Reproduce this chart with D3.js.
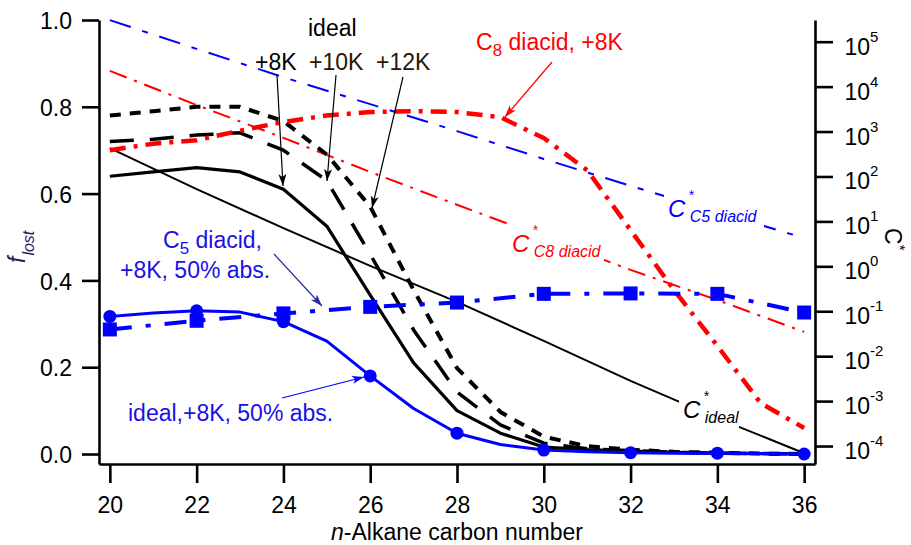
<!DOCTYPE html>
<html>
<head>
<script src="https://d3js.org/d3.v7.min.js"></script>
<style>
  body {margin: 0; background: #fff;}
  text {font-family: Arial, 'Liberation Sans', sans-serif;}
</style>
</head>
<body>
<svg width="911" height="545"></svg>
<script>
// carbon numbers
var carbons = [20,21,22,23,24,25,26,27,28,29,30,31,32,33,34,35,36];
var evenCarbons = [20,22,24,26,28,30,32,34,36];

// f_lost, one value per carbon number
var ideal8K   = [0.64,0.65,0.66,0.65,0.61,0.525,0.366,0.21,0.10,0.048,0.016,0.010,0.007,0.004,0.002,0.001,0.0];
var ideal10K  = [0.72,0.725,0.735,0.74,0.70,0.63,0.46,0.286,0.143,0.067,0.025,0.012,0.008,0.004,0.002,0.001,0.0];
var ideal12K  = [0.78,0.79,0.80,0.80,0.767,0.69,0.57,0.378,0.198,0.097,0.04,0.018,0.010,0.005,0.003,0.001,0.0];
var c8diacid8K = [0.70,0.715,0.723,0.745,0.765,0.78,0.788,0.79,0.788,0.776,0.728,0.654,0.516,0.378,0.249,0.117,0.06];
var ideal8K50 = [0.317,0.325,0.33,0.327,0.305,0.26,0.18,0.105,0.048,0.022,0.009,0.005,0.003,0.002,0.002,0.001,0.0];
// f_lost at even carbon numbers
var c5diacid8K50 = [0.287,0.307,0.324,0.339,0.349,0.369,0.37,0.369,0.326];

// log10 C* at even carbon numbers (right axis)
var logCideal = [2.63,1.72,0.85,0.01,-0.79,-1.66,-2.55,-3.38,-4.16];
var logCc5    = [5.48,4.84,4.21,3.61,3.01,2.39,1.79,1.21,0.63];
var logCc8    = [4.35,3.59,2.86,2.10,1.37,0.65,-0.08,-0.75,-1.46];

// tick labels
var leftTicks = [0,0.2,0.4,0.6,0.8,1.0];
var bottomTicks = [20,22,24,26,28,30,32,34,36];
var rightExps = [-4,-3,-2,-1,0,1,2,3,4,5];

var svg = d3.select('svg');

var xs = d3.scaleLinear().domain([19.75, 36.25]).range([99, 815]);
var yl = d3.scaleLinear().domain([-0.023, 1.0]).range([464, 20]);
var yr = d3.scaleLog().domain([Math.pow(10,-4.40), Math.pow(10,5.483)]).range([464, 20]);

var BLUE = '#0000ff', RED = '#ff0000';

// arrow heads
var defs = svg.append('defs');
function marker(id, col) {
  defs.append('marker')
    .attr('id', id).attr('markerUnits', 'userSpaceOnUse')
    .attr('markerWidth', 14).attr('markerHeight', 10)
    .attr('refX', 12).attr('refY', 4).attr('orient', 'auto')
    .append('path').attr('d', 'M0,0 L12,4 L0,8 L3,4 Z').attr('fill', col);
}
marker('ak', '#000'); marker('ar', RED); marker('an', '#2a2aa0'); marker('ab', BLUE);

function pairs(xsArr, ys) { return xsArr.map(function(c,i){ return [c, ys[i]]; }); }

var lineL = d3.line().x(function(d){return xs(d[0]);}).y(function(d){return yl(d[1]);});
var lineR = d3.line().x(function(d){return xs(d[0]);}).y(function(d){return yr(Math.pow(10, d[1]));});

var plot = svg.append('g').attr('id', 'traces');

function trace(gen, data, col, w, dash) {
  plot.append('path')
    .attr('d', gen(data))
    .attr('fill', 'none')
    .attr('stroke', col)
    .attr('stroke-width', w)
    .attr('stroke-dasharray', dash || null)
    .attr('stroke-linejoin', 'round');
}

// C* traces (right axis)
trace(lineR, pairs(evenCarbons, logCideal), '#000', 2, null);
trace(lineR, pairs(evenCarbons, logCc5), BLUE, 2, '22,12,6,12');
trace(lineR, pairs(evenCarbons, logCc8), RED, 2, '18,8,3,8');

// f_lost traces (left axis)
trace(lineL, pairs(carbons, ideal12K), '#000', 4, '11,9');
trace(lineL, pairs(carbons, ideal10K), '#000', 3.5, '24,16');
trace(lineL, pairs(carbons, ideal8K), '#000', 3.2, null);
trace(lineL, pairs(carbons, c8diacid8K), RED, 4.5, '16,8,4,8');
trace(lineL, pairs(evenCarbons, c5diacid8K50), BLUE, 4, '22,14,5,14');
trace(lineL, pairs(carbons, ideal8K50), BLUE, 3, null);

// markers
plot.selectAll('rect.sq')
  .data(pairs(evenCarbons, c5diacid8K50))
  .enter().append('rect')
    .attr('class', 'sq')
    .attr('x', function(d){return xs(d[0]) - 7;})
    .attr('y', function(d){return yl(d[1]) - 7;})
    .attr('width', 14).attr('height', 14)
    .attr('fill', BLUE);

plot.selectAll('circle')
  .data(pairs(evenCarbons, evenCarbons.map(function(c){ return ideal8K50[carbons.indexOf(c)]; })))
  .enter().append('circle')
    .attr('cx', function(d){return xs(d[0]);})
    .attr('cy', function(d){return yl(d[1]);})
    .attr('r', 6.5)
    .attr('fill', BLUE);

// Create Y axis (left)
var gl = svg.append('g')
  .attr('transform', 'translate(99,0)')
  .call(d3.axisLeft(yl).tickValues(leftTicks).tickSize(17).tickSizeOuter(0).tickPadding(10).tickFormat(d3.format('.1f')));

// Create X axis
var gb = svg.append('g')
  .attr('transform', 'translate(0,464)')
  .call(d3.axisBottom(xs).tickValues(bottomTicks).tickSize(19).tickSizeOuter(0).tickPadding(14));

// Create Y axis (right)
var gr = svg.append('g')
  .attr('transform', 'translate(815,0)')
  .call(d3.axisRight(yr).tickValues(rightExps.map(function(e){return Math.pow(10,e);})).tickSize(18).tickSizeOuter(0).tickFormat(''));

[gl, gb, gr].forEach(function(g) {
  g.attr('font-size', null).attr('font-family', null);
  g.selectAll('path, line').attr('stroke', '#000').attr('stroke-width', 2.6);
  g.selectAll('text').style('font-size', '23px').attr('fill', '#000');
});
gl.selectAll('text').attr('dy', '0.38em');

// right tick labels: 10 with exponent
gr.selectAll('text.exp')
  .data(rightExps)
  .enter().append('text')
    .attr('class', 'exp')
    .attr('x', 29.5)
    .attr('y', function(e){ return yr(Math.pow(10,e)) + 13; })
    .attr('fill', '#000')
    .style('font-size', '23px')
    .text('10')
  .append('tspan')
    .attr('dy', -13)
    .style('font-size', '15px')
    .text(function(e){ return e < 0 ? '-' + (-e) : e; });

// Label X axis
var xl = svg.append('text').attr('x', 457).attr('y', 540)
  .style('text-anchor', 'middle').style('font-size', '23px');
xl.append('tspan').style('font-style', 'italic').text('n');
xl.append('tspan').text('-Alkane carbon number');

// Label left Y axis
var fl = svg.append('text').attr('transform', 'translate(25,263) rotate(-90)')
  .attr('fill', '#1e1e5a').style('font-style', 'italic');
fl.append('tspan').style('font-size', '23px').text('f');
fl.append('tspan').attr('dy', 9).attr('dx', 1).style('font-size', '16px').text('lost');

// Label right Y axis
var cl = svg.append('text').attr('transform', 'translate(885,228) rotate(90)');
cl.append('tspan').style('font-size', '23px').text('C');
cl.append('tspan').attr('dy', -10).style('font-size', '15px').text('*');

// C* labels with white background
function cstar(x, y, sub, col, bw) {
  svg.append('rect').attr('x', x - 4).attr('y', y - 28).attr('width', bw).attr('height', 38).attr('fill', '#fff');
  var t = svg.append('text').attr('x', x).attr('y', y).attr('fill', col).style('font-style', 'italic');
  t.append('tspan').style('font-size', '24px').text('C');
  t.append('tspan').attr('dy', -17).attr('dx', 3).style('font-size', '14px').text('*');
  t.append('tspan').attr('dy', 22).attr('dx', -4).style('font-size', '16px').text(sub);
}
cstar(668, 217, 'C5 diacid', BLUE, 100);
cstar(512, 252, 'C8 diacid', RED, 96);
cstar(683, 418, 'ideal', '#000', 60);

// annotations
function label(x, y, txt, col) {
  return svg.append('text').attr('x', x).attr('y', y).attr('fill', col).style('font-size', '23px').text(txt);
}
label(308, 36, 'ideal', '#000');
label(255, 70, '+8K', '#000');
label(309, 70, '+10K', '#2a1400');
label(376, 70, '+12K', '#2a1400');
label(120, 278, '+8K, 50% abs.', '#1a10e6');
label(128, 421, 'ideal,+8K, 50% abs.', '#1a10e6');

var c5t = svg.append('text').attr('x', 163).attr('y', 248).attr('fill', '#1a10e6').style('font-size', '23px');
c5t.append('tspan').text('C');
c5t.append('tspan').attr('dy', 6).style('font-size', '17px').text('5');
c5t.append('tspan').attr('dy', -6).text(' diacid,');

var c8t = svg.append('text').attr('x', 476).attr('y', 50).attr('fill', RED).style('font-size', '23px');
c8t.append('tspan').text('C');
c8t.append('tspan').attr('dy', 6).style('font-size', '17px').text('8');
c8t.append('tspan').attr('dy', -6).text(' diacid, +8K');

// arrows
function arrow(x1, y1, x2, y2, col, m) {
  svg.append('line').attr('x1', x1).attr('y1', y1).attr('x2', x2).attr('y2', y2)
    .attr('stroke', col).attr('stroke-width', 1.2).attr('marker-end', 'url(#' + m + ')');
}
arrow(277, 75, 283, 186, '#000', 'ak');
arrow(336, 75, 327, 181, '#000', 'ak');
arrow(403, 77, 372, 208, '#000', 'ak');
arrow(552, 62, 505, 117, RED, 'ar');
arrow(274, 254, 322, 306, '#2a2aa0', 'an');
arrow(282, 398, 364, 377, BLUE, 'ab');
</script>
</body>
</html>
